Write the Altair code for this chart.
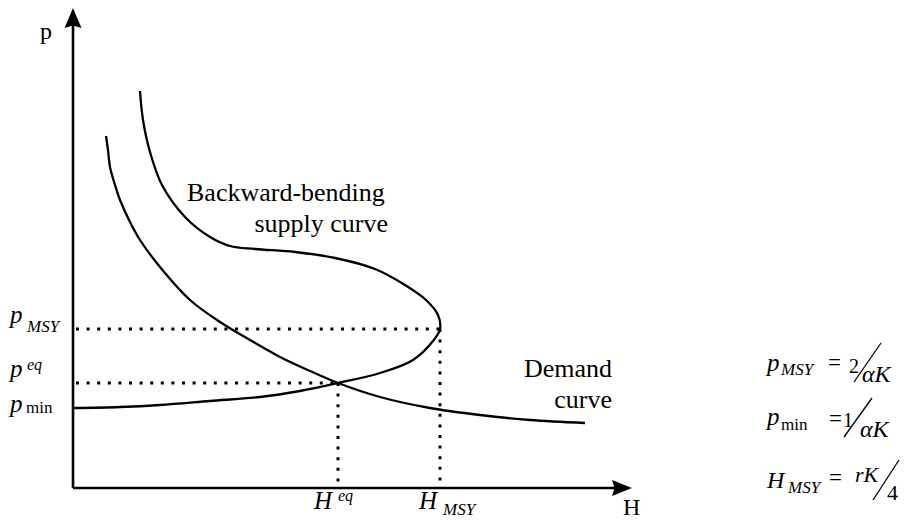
import altair as alt
import pandas as pd

# ---- key levels (diagram units: H along horizontal, p along vertical) ----
p_MSY = 159
p_eq = 105
p_min = 80
H_eq = 265
H_MSY = 367

# backward-bending supply curve (traced in drawing order)
supply_H = [0, 47, 87, 137, 187, 227, 265, 307, 340, 360, 367, 365, 353, 332, 302,
            262, 222, 182, 157, 137, 112, 89, 77, 70, 67]
supply_p = [80, 81, 83, 87, 91, 97, 105, 115, 128, 147, 159, 173, 188, 203, 219,
            230, 236, 239, 242, 251, 271, 303, 336, 368, 397]

# demand curve
demand_H = [33, 35, 37, 42, 47, 57, 67, 87, 117, 147, 177, 207, 237, 265, 307, 357, 407, 457, 512]
demand_p = [352, 338, 321, 303, 288, 266, 248, 221, 188, 166, 148, 131, 117, 105, 91, 80, 73, 68, 65]

# axis extents
H_axis_end = 549
p_axis_end = 470

# annotations: text, H, p
axis_labels = [("p", -33, 449), ("H", 550, -27)]
curve_labels = [("Backward-bending", 114, 287), ("supply curve", 315, 256),
                ("Demand", 539, 111), ("curve", 539, 80)]

FONT = "Liberation Serif"
X = alt.Scale(domain=[-65, 827], nice=False, zero=False)
Y = alt.Scale(domain=[-31, 480], nice=False, zero=False)


def xy(h="H", p="p"):
    return dict(x=alt.X(f"{h}:Q", scale=X, axis=None),
                y=alt.Y(f"{p}:Q", scale=Y, axis=None))


layers = []

# axes
axes_df = pd.DataFrame({"H": [0, 0], "p": [0, 0], "H2": [H_axis_end, 0], "p2": [0, p_axis_end]})
layers.append(alt.Chart(axes_df).mark_rule(color="black", strokeWidth=2.6).encode(
    **xy(), x2="H2:Q", y2="p2:Q"))

# arrow heads
arrow_up = pd.DataFrame({"H": [0], "p": [p_axis_end]})
arrow_right = pd.DataFrame({"H": [H_axis_end], "p": [0]})
layers.append(alt.Chart(arrow_up).mark_point(
    shape="M0,-1L0.85,1L0,0.75L-0.85,1Z", filled=True, color="black", opacity=1,
    size=400, strokeWidth=0).encode(**xy()))
layers.append(alt.Chart(arrow_right).mark_point(
    shape="M1,0L-1,-0.8L-0.75,0L-1,0.8Z", filled=True, color="black", opacity=1,
    size=400, strokeWidth=0).encode(**xy()))

# dotted guide lines
dots_df = pd.DataFrame({
    "H": [3, 3, H_eq, H_MSY],
    "p": [p_MSY, p_eq, p_eq, p_MSY],
    "H2": [H_MSY, H_eq, H_eq, H_MSY],
    "p2": [p_MSY, p_eq, 0, 0],
})
layers.append(alt.Chart(dots_df).mark_rule(
    color="black", strokeWidth=3, strokeDash=[3, 7.6], strokeCap="butt").encode(
    **xy(), x2="H2:Q", y2="p2:Q"))

# curves
supply_df = pd.DataFrame({"H": supply_H, "p": supply_p, "i": list(range(len(supply_H)))})
demand_df = pd.DataFrame({"H": demand_H, "p": demand_p, "i": list(range(len(demand_H)))})
for df in (supply_df, demand_df):
    layers.append(alt.Chart(df).mark_line(
        interpolate="catmull-rom", color="black", strokeWidth=2.3).encode(
        **xy(), order="i:Q"))


def label(text, h, p, size, italic=False, align="left"):
    df = pd.DataFrame({"H": [h], "p": [p], "t": [text]})
    kw = dict(font=FONT, fontSize=size, align=align, baseline="alphabetic", color="black")
    if italic:
        kw["fontStyle"] = "italic"
    return alt.Chart(df).mark_text(**kw).encode(**xy(), text="t:N")


# axis names
for t, h, p in axis_labels:
    layers.append(label(t, h, p, 24))

# curve names
layers.append(label(curve_labels[0][0], curve_labels[0][1], curve_labels[0][2], 26))
for t, h, p in curve_labels[1:]:
    layers.append(label(t, h, p, 26, align="right"))

# symbols beside the axes
layers += [
    label("p", -63, 165, 25, True), label("MSY", -46, 156, 17, True),
    label("p", -63, 111, 25, True), label("eq", -46, 118, 16, True),
    label("p", -63, 76, 25, True), label("min", -47, 75, 17),
    label("H", 241, -21, 25, True), label("eq", 265, -13, 16, True),
    label("H", 346, -21, 25, True), label("MSY", 370, -27, 17, True),
]

# formulas
layers += [
    label("p", 694, 117, 25, True), label("MSY", 708, 113, 17, True),
    label("=", 755, 118, 23), label("2", 776, 115, 20), label("αK", 789, 106, 24, True),
    label("p", 694, 63, 25, True), label("min", 708, 58, 17),
    label("=", 756, 62, 23), label("1", 770, 61, 20), label("αK", 787, 51, 24, True),
    label("H", 694, 0, 24, True), label("MSY", 715, -5, 17, True),
    label("=", 756, 3, 23), label("rK", 782, 6, 22, True), label("4", 814, -12, 22),
]

slash_df = pd.DataFrame({"H": [781, 771, 800], "p": [106, 51, -12],
                         "H2": [808, 799, 826], "p2": [145, 90, 28]})
layers.append(alt.Chart(slash_df).mark_rule(color="black", strokeWidth=1.3).encode(
    **xy(), x2="H2:Q", y2="p2:Q"))

chart = alt.layer(*layers).properties(
    width=892, height=511, autosize="none", padding=0, background="white"
).configure_view(stroke=None)

chart.save("out.html", embed_options={"renderer": "svg", "actions": False})
